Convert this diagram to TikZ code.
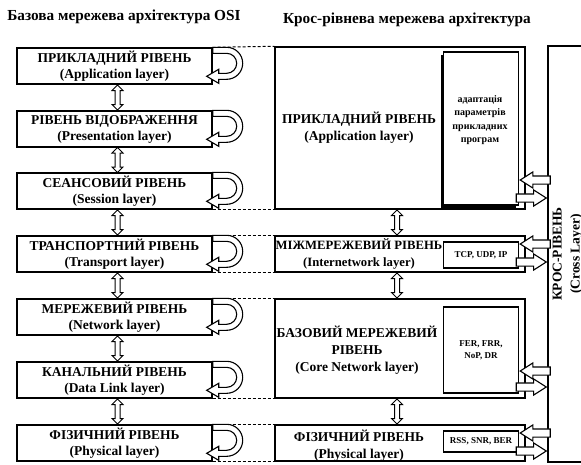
\documentclass[tikz,border=0pt]{standalone}
\usepackage{fontspec}
\setmainfont{Liberation Serif}
\usetikzlibrary{shapes.arrows,shadows}
\tikzset{
  box/.style={draw,line width=1.4pt,fill=white,inner sep=0pt},
  osibox/.style={box,minimum width=195pt,minimum height=36pt,align=center,font=\bfseries\fontsize{13.5}{16}\selectfont},
  crossbox/.style={box,minimum width=250pt},
  boxtext/.style={align=center,font=\bfseries\fontsize{13.5}{17}\selectfont},
  parambox/.style={box,minimum width=75pt,align=center,font=\bfseries\fontsize{9}{12}\selectfont},
  headline/.style={font=\bfseries\fontsize{15.3}{18}\selectfont},
  updown/.style={double arrow,draw,line width=1pt,minimum height=25pt,inner sep=2pt,double arrow head extend=3pt,shape border rotate=90},
  toleft/.style={single arrow,draw,fill=white,line width=1.1pt,minimum height=30pt,inner sep=3.5pt,single arrow head extend=4pt,single arrow tip angle=65,shape border rotate=180},
  toright/.style={toleft,shape border rotate=0},
  dashlink/.style={densely dashed,line width=1pt},
  uturn/.style={draw,fill=white,line width=1.1pt}
}
\newcommand{\backloop}[1]{%
  \draw [uturn] ([yshift=-6pt]#1.north east) -- ++(14,0)
    arc [start angle=-90,end angle=90,radius=10] -- ++(-8,0) -- ++(0,-4)
    -- ++(-12,7) -- ++(12,7) -- ++(0,-4) -- ++(8,0)
    arc [start angle=90,end angle=-90,radius=16] -- ++(-14,0) -- cycle;}
\begin{document}
\begin{tikzpicture}[x=1pt,y=-1pt]
  \useasboundingbox (0,0) rectangle (581,464);
  \node [headline] (osititle) at (124,17) {Базова мережева архітектура OSI};
  \node [headline] (crosstitle) at (407,20) {Крос-рівнева мережева архітектура};

  \node [osibox] (app) at (114.5,66) {ПРИКЛАДНИЙ РІВЕНЬ\\(Application layer)};
  \node [osibox] (pres) at (114.5,129) {РІВЕНЬ ВІДОБРАЖЕННЯ\\(Presentation layer)};
  \node [osibox] (sess) at (114.5,191) {СЕАНСОВИЙ РІВЕНЬ\\(Session layer)};
  \node [osibox] (trans) at (114.5,254) {ТРАНСПОРТНИЙ РІВЕНЬ\\(Transport layer)};
  \node [osibox] (net) at (114.5,317) {МЕРЕЖЕВИЙ РІВЕНЬ\\(Network layer)};
  \node [osibox] (dlink) at (114.5,380) {КАНАЛЬНИЙ РІВЕНЬ\\(Data Link layer)};
  \node [osibox] (phys) at (114.5,443) {ФІЗИЧНИЙ РІВЕНЬ\\(Physical layer)};

  \node [crossbox,minimum height=162pt] (rapp) at (400,128) {};
  \node [crossbox,minimum height=36pt] (rinet) at (400,254) {};
  \node [crossbox,minimum height=99pt] (rcore) at (400,348.5) {};
  \node [crossbox,minimum height=36pt] (rphys) at (400,443) {};
  \node [boxtext] (rapptxt) at ([xshift=-41pt]rapp.center) {ПРИКЛАДНИЙ РІВЕНЬ\\(Application layer)};
  \node [boxtext,font=\bfseries\fontsize{12.7}{17}\selectfont] (rinettxt) at ([xshift=-41pt]rinet.center) {МІЖМЕРЕЖЕВИЙ РІВЕНЬ\\(Internetwork layer)};
  \node [boxtext] (rcoretxt) at ([xshift=-43pt,yshift=-1.5pt]rcore.center) {БАЗОВИЙ МЕРЕЖЕВИЙ\\РІВЕНЬ\\(Core Network layer)};
  \node [boxtext] (rphystxt) at ([xshift=-41pt,yshift=-3pt]rphys.center) {ФІЗИЧНИЙ РІВЕНЬ\\(Physical layer)};

  \node [parambox,minimum height=153pt,drop shadow={shadow xshift=-2.5pt,shadow yshift=-2.5pt,fill=black,opacity=1}] (adapt) at (481,128.5) {};
  \node [font=\bfseries\fontsize{10}{13.3}\selectfont,align=center] (adapttxt) at (480,120) {адаптація\\параметрів\\прикладних\\програм};
  \node [parambox,minimum height=26pt] (tcp) at (481,255) {TCP, UDP, IP};
  \node [parambox,minimum height=86pt] (fer) at (481,350) {FER, FRR,\\NoP, DR};
  \node [parambox,minimum height=21pt] (rss) at (481,441.5) {RSS, SNR, BER};

  \node [box,minimum width=38pt,minimum height=416pt,font=\bfseries\fontsize{13.5}{18}\selectfont] (cross) at (567,254)
    {\rotatebox{90}{\begin{tabular}{@{}c@{}}КРОС-РІВЕНЬ\\(Cross Layer)\end{tabular}}};

  \draw [dashlink] (app.north east) -- (rapp.north west);
  \draw [dashlink] (sess.south east) -- (rapp.south west);
  \draw [dashlink] (trans.north east) -- (rinet.north west);
  \draw [dashlink] (trans.south east) -- (rinet.south west);
  \draw [dashlink] (net.north east) -- (rcore.north west);
  \draw [dashlink] (dlink.south east) -- (rcore.south west);
  \draw [dashlink] (phys.north east) -- (rphys.north west);
  \draw [dashlink] (phys.south east) -- (rphys.south west);

  \foreach \n in {app,pres,sess,trans,net,dlink,phys}
    \backloop{\n};

  \foreach \a/\b in {app/pres,pres/sess,sess/trans,trans/net,net/dlink,dlink/phys}
    \path ([xshift=3pt]\a.south) -- ([xshift=3pt]\b.north) node [midway,updown] (\a-\b) {};
  \foreach \a/\b in {rapp/rinet,rinet/rcore,rcore/rphys}
    \path ([xshift=-3pt]\a.south) -- ([xshift=-3pt]\b.north) node [midway,updown] (\a-\b) {};

  \foreach \p/\yi/\yo in {adapt/180/198,tcp/244/262,fer/371/387,rss/433/451} {
    \node [toleft,anchor=tip] (\p-in) at (\p.east |- 0,\yi) {};
    \node [toright,anchor=tip] (\p-out) at (cross.west |- 0,\yo) {};
  }
\end{tikzpicture}
\end{document}
